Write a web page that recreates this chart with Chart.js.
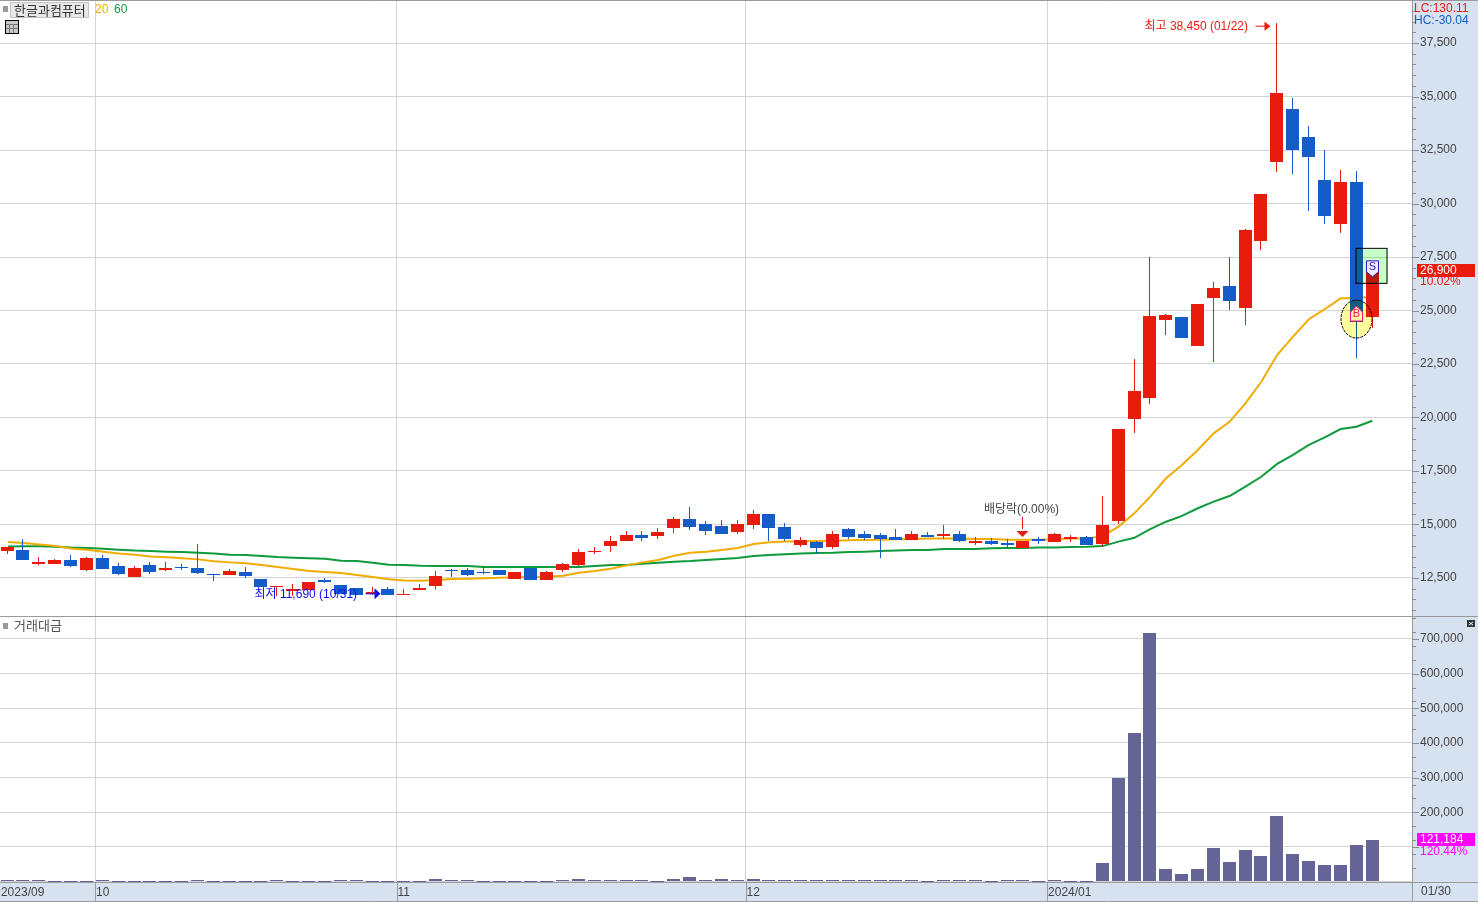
<!DOCTYPE html>
<html lang="ko">
<head>
<meta charset="utf-8">
<title>한글과컴퓨터</title>
<script src="https://cdn.jsdelivr.net/npm/chart.js@4"></script>
<style>
html, body { margin: 0; padding: 0; width: 1478px; height: 902px; overflow: hidden; background: #d6e2f0; }
canvas { position: absolute; left: 0; display: block; }
#price-chart { top: 0; }
#volume-chart { top: 617px; }
</style>
</head>
<body>
<canvas id="price-chart" width="1478" height="617"></canvas>
<canvas id="volume-chart" width="1478" height="285"></canvas>
<script>
const stockName = '한글과컴퓨터';
const volumeName = '거래대금';
const monthLabels = { 0: '2023/09', 6: '10', 25: '11', 47: '12', 66: '2024/01' };
const lastDate = '01/30';
const priceTickLabels = [12500, 15000, 17500, 20000, 22500, 25000, 27500, 30000, 32500, 35000, 37500];
const volumeTickLabels = [200000, 300000, 400000, 500000, 600000, 700000];
const volumeGridLines = [0, 100000, 200000, 300000, 400000, 500000, 600000, 700000];

const opens = [13760, 13810, 13150, 13150, 13340, 12870, 13430, 13060, 12550, 13110, 12870, 13010, 12970, 12690, 12640, 12780, 12450, 12080, 11890, 11940, 12410, 12170, 12030, 11750, 11990, 11700, 11940, 12130, 12870, 12870, 12780, 12870, 12450, 12970, 12410, 12870, 13110, 13720, 14000, 14230, 14510, 14460, 14840, 15260, 15020, 14930, 14650, 14980, 15490, 14880, 14040, 14180, 13950, 14790, 14560, 14510, 14420, 14280, 14510, 14460, 14560, 14140, 14230, 14140, 13900, 14320, 14180, 14320, 14420, 14090, 15160, 19930, 20910, 24560, 24700, 23340, 25580, 26150, 25120, 28250, 31940, 34420, 33110, 31100, 29040, 31000, 24700];
const highs = [13950, 14320, 13480, 13390, 13580, 13480, 13580, 13200, 13060, 13250, 13250, 13150, 14090, 12690, 12920, 13010, 12450, 12130, 12220, 12310, 12500, 12170, 12030, 12080, 12080, 11990, 12220, 12830, 12920, 12970, 13060, 12870, 12780, 12970, 12830, 13200, 13860, 13950, 14460, 14700, 14700, 14840, 15350, 15820, 15160, 15210, 15210, 15680, 15490, 15070, 14420, 14230, 14700, 14840, 14700, 14600, 14790, 14700, 14650, 14980, 14700, 14420, 14370, 14320, 14230, 14420, 14600, 14510, 14460, 16330, 19460, 22730, 27500, 24840, 24700, 25300, 26330, 27500, 28810, 30440, 38450, 34930, 33620, 32500, 31570, 31520, 26900];
const lows = [13620, 13340, 13110, 13150, 13010, 12830, 12920, 12640, 12550, 12690, 12830, 12870, 12690, 12360, 12640, 12500, 12080, 11660, 11660, 11940, 12270, 11750, 11710, 11700, 11690, 11700, 11940, 11990, 12550, 12590, 12690, 12640, 12450, 12410, 12410, 12780, 13060, 13620, 13720, 14230, 14230, 14320, 14600, 14740, 14510, 14560, 14560, 14790, 14230, 14230, 13950, 13620, 13860, 14320, 14280, 13430, 14280, 14280, 14420, 14320, 14180, 14040, 14040, 13900, 13900, 14090, 14180, 14180, 14040, 14000, 15020, 19280, 20630, 23860, 23720, 23340, 22590, 25020, 24320, 27830, 31470, 31380, 29650, 29040, 28620, 22780, 24180];
const closes = [13950, 13340, 13250, 13340, 13060, 13430, 12920, 12690, 12970, 12780, 12970, 12970, 12730, 12640, 12830, 12590, 12080, 12130, 11990, 12310, 12310, 11750, 11710, 11850, 11690, 11750, 12030, 12590, 12830, 12640, 12730, 12640, 12780, 12410, 12780, 13150, 13720, 13760, 14230, 14510, 14370, 14650, 15260, 14880, 14700, 14560, 15020, 15490, 14840, 14320, 14280, 13900, 14560, 14420, 14370, 14320, 14280, 14560, 14420, 14560, 14230, 14230, 14090, 14040, 14230, 14230, 14560, 14420, 14040, 14980, 19460, 21240, 24740, 24790, 23720, 25300, 26050, 25440, 28760, 30440, 35160, 32500, 32170, 29420, 31000, 24450, 26900];
const ma20 = [14180, 14140, 14070, 14000, 13880, 13820, 13730, 13640, 13590, 13510, 13470, 13420, 13370, 13280, 13230, 13190, 13110, 13010, 12920, 12830, 12780, 12730, 12640, 12550, 12440, 12380, 12370, 12410, 12450, 12470, 12490, 12510, 12530, 12550, 12560, 12610, 12750, 12830, 12930, 13090, 13230, 13340, 13540, 13680, 13730, 13810, 13900, 14090, 14170, 14200, 14200, 14230, 14240, 14260, 14280, 14290, 14310, 14320, 14340, 14340, 14340, 14320, 14320, 14290, 14290, 14290, 14310, 14340, 14340, 14460, 14900, 15520, 16300, 17160, 17780, 18480, 19260, 19800, 20660, 21670, 22920, 23780, 24590, 25060, 25570, 25570, 25650];
const ma60 = [13970, 13980, 13980, 13960, 13920, 13900, 13870, 13820, 13780, 13760, 13730, 13710, 13680, 13640, 13590, 13570, 13530, 13480, 13450, 13420, 13400, 13310, 13290, 13210, 13120, 13110, 13070, 13060, 13060, 13060, 13010, 13010, 13010, 13010, 13010, 13010, 13010, 13060, 13110, 13110, 13170, 13210, 13260, 13290, 13340, 13390, 13430, 13530, 13570, 13610, 13650, 13670, 13680, 13710, 13730, 13760, 13780, 13810, 13810, 13860, 13860, 13860, 13890, 13900, 13900, 13920, 13920, 13950, 13960, 13990, 14200, 14380, 14780, 15130, 15400, 15760, 16070, 16330, 16770, 17230, 17830, 18250, 18720, 19070, 19460, 19570, 19850];
const volumes = [5800, 5800, 5800, 2900, 2900, 2900, 5800, 2900, 2900, 2900, 2900, 2900, 5800, 2900, 2900, 2900, 2900, 5800, 2900, 2900, 2900, 5800, 5800, 2900, 2900, 2900, 2900, 8700, 5800, 5800, 2900, 2900, 2900, 2900, 2900, 5800, 8700, 5800, 5800, 5800, 5800, 2900, 8700, 11600, 5800, 8700, 5800, 8700, 5800, 5800, 5800, 5800, 5800, 5800, 5800, 5800, 5800, 5800, 2900, 5800, 5800, 5800, 2900, 5800, 5800, 2900, 5800, 2900, 2900, 52000, 298000, 429000, 718000, 37500, 23000, 34700, 98000, 55000, 89600, 75000, 188000, 78000, 57800, 49000, 49000, 104000, 121184];

const RED = '#e81c0c';
const BLUE = '#145cc8';
const AXIS_TEXT = '#444444';
const GRID = '#d4d4d4';
const EDGE = '#9a9a9a';
const FONT = '"Liberation Sans", "Noto Sans CJK KR"';

// two empty slots stay free on the right, as in the original screen
const categories = opens.map((v, i) => String(i)).concat(['', '']);
const candleColors = opens.map((o, i) => closes[i] >= o ? RED : BLUE);
const bodies = opens.map((o, i) => [o, closes[i]]);
const wicks = lows.map((l, i) => [l, highs[i]]);

// snap bars on whole pixels so they stay as sharp as the original
function snapX(x) {
    return Math.floor(x * 1.0005 - 0.92) + 0.5;
}

function snapBars(chart) {
    chart.data.datasets.forEach((ds, i) => {
        if (ds.type !== 'bar') return;
        chart.getDatasetMeta(i).data.forEach(el => {
            el.x = snapX(el.x);
            el.y = Math.round(el.y);
            el.base = Math.round(el.base);
            if (el.base - el.y < 1) el.base = el.y + 1;
        });
    });
}

function drawText(ctx, text, x, y, color, size, align) {
    ctx.font = (size || 12) + 'px ' + FONT;
    ctx.fillStyle = color;
    ctx.textAlign = align || 'left';
    ctx.textBaseline = 'middle';
    ctx.fillText(text, x, y);
}

function drawAxisTicks(chart, majors, minorStep) {
    const ctx = chart.ctx;
    const area = chart.chartArea;
    const yScale = chart.scales.y;
    ctx.save();
    ctx.strokeStyle = '#8c8c8c';
    ctx.lineWidth = 1;
    yScale.ticks.forEach(t => {
        const y = Math.round(yScale.getPixelForValue(t.value)) + 0.5;
        const isMajor = majors.includes(t.value);
        if (!isMajor && t.value % minorStep !== 0) return;
        ctx.beginPath();
        ctx.moveTo(area.right, y);
        ctx.lineTo(area.right + (isMajor ? 7 : 4), y);
        ctx.stroke();
    });
    ctx.restore();
}

const whiteArea = {
    id: 'whiteArea',
    beforeDraw(chart) {
        const a = chart.chartArea;
        chart.ctx.fillStyle = '#ffffff';
        chart.ctx.fillRect(a.left, a.top, a.width, a.height);
    },
    beforeDatasetsDraw(chart) {
        snapBars(chart);
    }
};

const priceExtras = {
    id: 'priceExtras',
    afterDatasetsDraw(chart) {
        const ctx = chart.ctx;
        const xs = chart.scales.x;
        const ys = chart.scales.y;
        const area = chart.chartArea;
        ctx.save();

        // B marker on the candle before the last one
        const bx = snapX(xs.getPixelForValue(85));
        const by = ys.getPixelForValue(24600);
        ctx.globalCompositeOperation = 'multiply';
        ctx.fillStyle = '#ffff9e';
        ctx.beginPath();
        ctx.ellipse(bx, by, 15.5, 19, 0, 0, Math.PI * 2);
        ctx.fill();
        ctx.globalCompositeOperation = 'source-over';
        ctx.strokeStyle = '#000000';
        ctx.lineWidth = 1;
        ctx.setLineDash([3, 1]);
        ctx.stroke();
        ctx.setLineDash([]);
        ctx.fillStyle = '#fff6a8';
        ctx.strokeStyle = '#ff0a78';
        ctx.beginPath();
        ctx.moveTo(bx, by - 13);
        ctx.lineTo(bx + 6, by - 7);
        ctx.lineTo(bx + 6, by + 2);
        ctx.lineTo(bx - 6, by + 2);
        ctx.lineTo(bx - 6, by - 7);
        ctx.closePath();
        ctx.fill();
        ctx.stroke();
        drawText(ctx, 'B', bx, by - 5, '#ff0a78', 11, 'center');

        // S marker on the last candle
        const sx = snapX(xs.getPixelForValue(86));
        const sy = ys.getPixelForValue(26900);
        ctx.globalCompositeOperation = 'multiply';
        ctx.fillStyle = '#c8ffc8';
        ctx.fillRect(sx - 16, sy - 21, 31, 35);
        ctx.globalCompositeOperation = 'source-over';
        ctx.strokeStyle = '#000000';
        ctx.strokeRect(sx - 16.5, sy - 21.5, 31, 35);
        ctx.fillStyle = '#e8f0ff';
        ctx.strokeStyle = '#3a10c8';
        ctx.beginPath();
        ctx.moveTo(sx - 6, sy - 9);
        ctx.lineTo(sx + 6, sy - 9);
        ctx.lineTo(sx + 6, sy + 2);
        ctx.lineTo(sx, sy + 7);
        ctx.lineTo(sx - 6, sy + 2);
        ctx.closePath();
        ctx.fill();
        ctx.stroke();
        drawText(ctx, 'S', sx, sy - 3, '#3a10c8', 11, 'center');

        // high label and arrow
        const hx = snapX(xs.getPixelForValue(80));
        const hy = ys.getPixelForValue(38450) + 3;
        drawText(ctx, '최고 38,450 (01/22)', hx - 132, hy + 1, RED);
        ctx.strokeStyle = RED;
        ctx.fillStyle = RED;
        ctx.beginPath();
        ctx.moveTo(hx - 21, hy + 0.5);
        ctx.lineTo(hx - 10, hy + 0.5);
        ctx.stroke();
        ctx.beginPath();
        ctx.moveTo(hx - 6, hy + 0.5);
        ctx.lineTo(hx - 12, hy - 4);
        ctx.lineTo(hx - 12, hy + 5);
        ctx.closePath();
        ctx.fill();

        // low label and arrow
        const lx = snapX(xs.getPixelForValue(24));
        const ly = ys.getPixelForValue(11690) - 2;
        drawText(ctx, '최저 11,690 (10/31)', lx - 133, ly + 1, '#0a0aff');
        ctx.strokeStyle = '#0a0aff';
        ctx.fillStyle = '#0a0aff';
        ctx.beginPath();
        ctx.moveTo(lx - 22, ly + 0.5);
        ctx.lineTo(lx - 12, ly + 0.5);
        ctx.stroke();
        ctx.beginPath();
        ctx.moveTo(lx - 7, ly + 0.5);
        ctx.lineTo(lx - 13, ly - 5);
        ctx.lineTo(lx - 13, ly + 6);
        ctx.closePath();
        ctx.fill();

        // ex-dividend note
        const dx = snapX(xs.getPixelForValue(64));
        const dy = ys.getPixelForValue(14230);
        drawText(ctx, '배당락(0.00%)', dx - 1, dy - 31, AXIS_TEXT, 12, 'center');
        ctx.strokeStyle = RED;
        ctx.fillStyle = RED;
        ctx.beginPath();
        ctx.moveTo(dx, dy - 24);
        ctx.lineTo(dx, dy - 12);
        ctx.stroke();
        ctx.beginPath();
        ctx.moveTo(dx, dy - 4);
        ctx.lineTo(dx - 6, dy - 10);
        ctx.lineTo(dx + 6, dy - 10);
        ctx.closePath();
        ctx.fill();

        // header
        ctx.fillStyle = '#999999';
        ctx.fillRect(3, 6, 5, 6);
        ctx.fillStyle = '#e8e8e8';
        ctx.fillRect(10, 2, 78, 15);
        ctx.strokeStyle = '#c4c4c4';
        ctx.strokeRect(10.5, 2.5, 78, 15);
        drawText(ctx, stockName, 14, 11, '#333333', 13);
        drawText(ctx, '20', 95, 10, '#f0ac00');
        drawText(ctx, '60', 114, 10, '#0f9a3c');
        ctx.fillStyle = '#c8c8c8';
        ctx.fillRect(5, 20, 14, 14);
        ctx.strokeStyle = '#000000';
        ctx.strokeRect(5.5, 20.5, 13, 13);
        ctx.strokeStyle = '#777777';
        ctx.beginPath();
        ctx.moveTo(6, 24.5); ctx.lineTo(18, 24.5);
        ctx.moveTo(9.5, 24); ctx.lineTo(9.5, 33);
        ctx.moveTo(13.5, 24); ctx.lineTo(13.5, 33);
        ctx.moveTo(6, 28.5); ctx.lineTo(18, 28.5);
        ctx.stroke();
        ctx.restore();

        // right axis extras
        drawAxisTicks(chart, priceTickLabels, 500);
        ctx.save();
        drawText(ctx, 'LC:130.11', area.right + 2, 9, RED);
        drawText(ctx, 'HC:-30.04', area.right + 2, 21, BLUE);
        const cy = Math.round(ys.getPixelForValue(26900));
        ctx.fillStyle = RED;
        ctx.fillRect(area.right + 5, cy - 6, 58, 13);
        drawText(ctx, '26,900', area.right + 8, cy + 1, '#ffffff');
        drawText(ctx, '10.02%', area.right + 8, cy + 12, RED);
        ctx.strokeStyle = EDGE;
        ctx.beginPath();
        ctx.moveTo(0, 0.5); ctx.lineTo(chart.width, 0.5);
        ctx.moveTo(0, area.bottom + 0.5); ctx.lineTo(chart.width, area.bottom + 0.5);
        ctx.stroke();
        ctx.restore();
    }
};

const volumeExtras = {
    id: 'volumeExtras',
    afterDatasetsDraw(chart) {
        const ctx = chart.ctx;
        const xs = chart.scales.x;
        const ys = chart.scales.y;
        const area = chart.chartArea;
        drawAxisTicks(chart, volumeGridLines.slice(1), 40000);
        ctx.save();
        ctx.fillStyle = '#999999';
        ctx.fillRect(3, 6, 5, 6);
        drawText(ctx, volumeName, 14, 9, '#555555', 13);

        ctx.fillStyle = '#333333';
        ctx.fillRect(1467, 3, 8, 7);
        ctx.strokeStyle = '#ffffff';
        ctx.beginPath();
        ctx.moveTo(1469, 5); ctx.lineTo(1473, 8);
        ctx.moveTo(1473, 5); ctx.lineTo(1469, 8);
        ctx.stroke();

        const vy = Math.round(ys.getPixelForValue(121184));
        ctx.fillStyle = '#ff00ff';
        ctx.fillRect(area.right + 5, vy - 7, 58, 13);
        drawText(ctx, '121,184', area.right + 8, vy, '#ffffff');
        drawText(ctx, '120.44%', area.right + 8, vy + 12, '#ff00ff');

        ctx.strokeStyle = EDGE;
        ctx.beginPath();
        ctx.moveTo(0, area.bottom + 0.5); ctx.lineTo(chart.width, area.bottom + 0.5);
        ctx.moveTo(0, chart.height - 0.5); ctx.lineTo(chart.width, chart.height - 0.5);
        ctx.moveTo(area.right + 0.5, area.bottom); ctx.lineTo(area.right + 0.5, chart.height);
        Object.keys(monthLabels).forEach(k => {
            if (+k === 0) return;
            const gx = Math.round(xs.getPixelForValue(+k) - xs.width / categories.length / 2) + 0.5;
            ctx.moveTo(gx, area.bottom); ctx.lineTo(gx, chart.height);
        });
        ctx.stroke();
        drawText(ctx, lastDate, area.right + 9, chart.height - 10, AXIS_TEXT);
        ctx.restore();
    }
};

function baseOptions(yMin, yMax, step, labels, gridLines, xLabels) {
    return {
        responsive: false,
        animation: false,
        events: [],
        layout: { padding: xLabels ? 0 : { top: 1, bottom: 1 } },
        plugins: { legend: { display: false }, tooltip: { enabled: false } },
        scales: {
            x: {
                offset: true,
                grid: {
                    offset: true,
                    drawTicks: false,
                    color: c => (c.index > 0 && monthLabels[c.index] !== undefined) ? GRID : 'rgba(0,0,0,0)'
                },
                border: { display: false },
                ticks: {
                    display: xLabels,
                    autoSkip: false,
                    maxRotation: 0,
                    align: 'start',
                    labelOffset: -7,
                    padding: 3,
                    color: AXIS_TEXT,
                    font: { family: FONT, size: 12 },
                    callback: (v, i) => monthLabels[i] || ''
                },
                afterFit: s => {
                    s.height = xLabels ? 20 : 0;
                    s.paddingLeft = 0;
                    s.paddingRight = 0;
                }
            },
            y: {
                position: 'right',
                min: yMin,
                max: yMax,
                grid: {
                    drawTicks: false,
                    color: c => gridLines.includes(c.tick.value) ? GRID : 'rgba(0,0,0,0)'
                },
                border: { color: EDGE },
                ticks: {
                    autoSkip: false,
                    padding: 8,
                    color: AXIS_TEXT,
                    font: { family: FONT, size: 12 },
                    callback: v => labels.includes(v) ? v.toLocaleString('en-US') : ''
                },
                // the minor marks need a finer step than the auto generator gives
                afterBuildTicks: s => {
                    const list = [];
                    for (let v = Math.ceil(yMin / step) * step; v <= yMax; v += step) list.push({ value: v });
                    s.ticks = list;
                },
                afterFit: s => {
                    s.width = 66;
                    s.paddingTop = 0;
                    s.paddingBottom = 0;
                }
            }
        }
    };
}

new Chart(document.getElementById('price-chart'), {
    type: 'bar',
    data: {
        labels: categories,
        datasets: [
            { type: 'bar', data: bodies, backgroundColor: candleColors, barThickness: 13, grouped: false, order: 1, inflateAmount: 0 },
            { type: 'bar', data: wicks, backgroundColor: candleColors, barThickness: 1, grouped: false, order: 2, inflateAmount: 0 },
            { type: 'line', data: ma20, borderColor: '#f0ac00', borderWidth: 2, pointRadius: 0, tension: 0, order: 3 },
            { type: 'line', data: ma60, borderColor: '#0f9a3c', borderWidth: 2, pointRadius: 0, tension: 0, order: 4 }
        ]
    },
    options: baseOptions(10724, 39463, 500, priceTickLabels, priceTickLabels, false),
    plugins: [whiteArea, priceExtras]
});

new Chart(document.getElementById('volume-chart'), {
    type: 'bar',
    data: {
        labels: categories,
        datasets: [
            { type: 'bar', data: volumes, backgroundColor: '#646496', barThickness: 13, inflateAmount: 0 }
        ]
    },
    options: baseOptions(-1400, 763500, 20000, volumeTickLabels, volumeGridLines, true),
    plugins: [whiteArea, volumeExtras]
});
</script>
</body>
</html>
